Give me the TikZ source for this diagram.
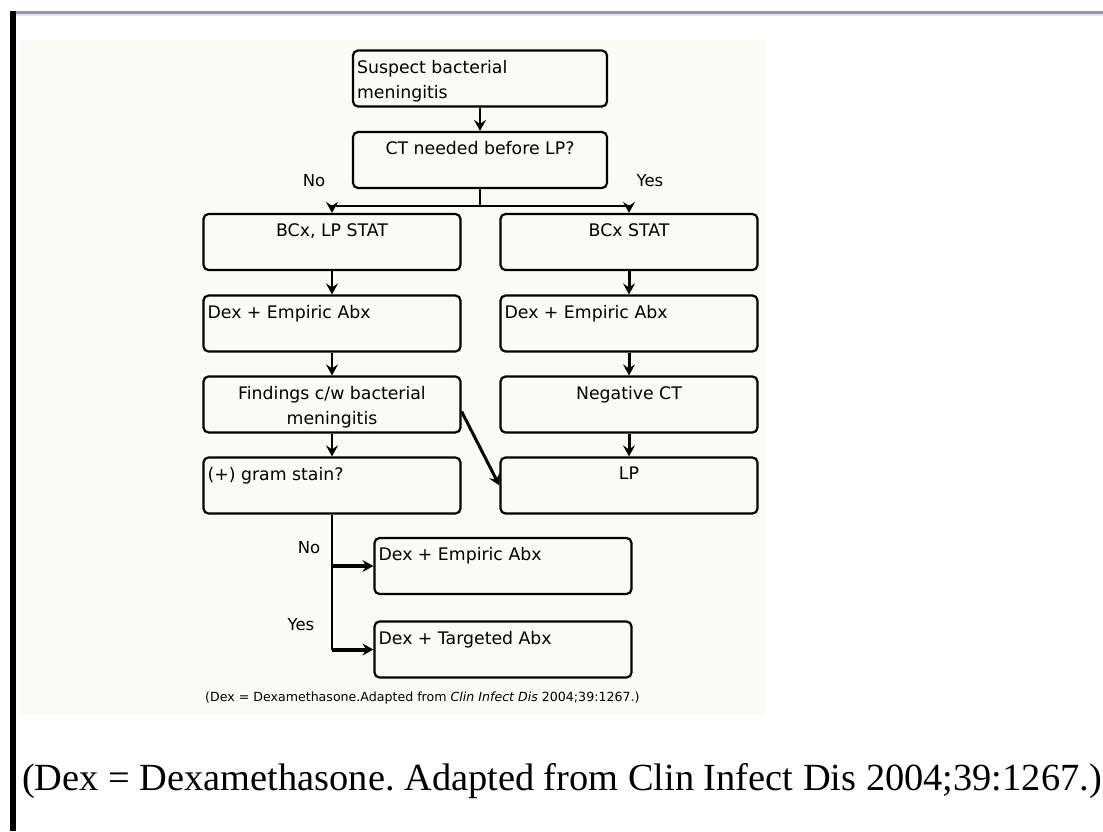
\documentclass[tikz,border=0pt]{standalone}
\usepackage{fontspec}
\setmainfont{Liberation Serif}
\newfontfamily\chartfont{DejaVu Sans}
\usetikzlibrary{arrows.meta}
\definecolor{scanbg}{RGB}{250,250,247}
\definecolor{rulegray}{RGB}{153,153,160}
\definecolor{rulelight}{RGB}{230,228,240}
\frenchspacing
\tikzset{
  flowbox/.style={draw, rounded corners=5pt, line width=2.2pt,
    minimum width=257pt, minimum height=56pt, inner sep=0pt},
  toptxt/.style={anchor=north, inner sep=0pt, yshift=-10.5pt,
    font=\chartfont\fontsize{17.3}{25}\selectfont, align=center},
  lefttxt/.style={anchor=north west, inner sep=0pt, xshift=5pt, yshift=-10.5pt,
    font=\chartfont\fontsize{17.3}{25}\selectfont, align=left},
  branchlbl/.style={inner sep=0pt, font=\chartfont\fontsize{16.5}{20}\selectfont},
  flow/.style={line width=2.2pt, -{Stealth[length=11pt,width=12pt,inset=4pt]}},
}
\begin{document}
\begin{tikzpicture}[x=1pt,y=-1pt]
  \useasboundingbox (0,0) rectangle (1103,831);
  \fill[white] (0,0) rectangle (1103,831);
  % page rules
  \fill[rulegray] (10,11) rectangle (1103,13.5);
  \fill[rulelight] (10,13.5) rectangle (1103,15.5);
  \fill[black] (10,11) rectangle (16,831);
  \fill[scanbg] (20,40) rectangle (765,715);
  % boxes
  \node[flowbox, minimum width=254pt,
    label={[lefttxt]north west:Suspect bacterial\\meningitis}] (suspect) at (480,78.5) {};
  \node[flowbox, minimum width=254pt,
    label={[toptxt]north:CT needed before LP?}] (ct) at (480,160) {};
  \node[flowbox, label={[toptxt]north:{BCx, LP STAT}}] (bcx) at (332,242) {};
  \node[flowbox, label={[toptxt]north:BCx STAT}] (bcxs) at (629,242) {};
  \node[flowbox, label={[lefttxt]north west:Dex + Empiric Abx}] (dexl) at (332,323.5) {};
  \node[flowbox, label={[lefttxt]north west:Dex + Empiric Abx}] (dexr) at (629,323.5) {};
  \node[flowbox, label={[toptxt]north:Findings c/w bacterial\\meningitis}] (find) at (332,404.5) {};
  \node[flowbox, label={[toptxt]north:Negative CT}] (neg) at (629,404.5) {};
  \node[flowbox, label={[lefttxt]north west:(+) gram stain?}] (gram) at (332,485.5) {};
  \node[flowbox, label={[toptxt]north:LP}] (lp) at (629,485.5) {};
  \node[flowbox, label={[lefttxt]north west:Dex + Empiric Abx}] (emp) at (503,566) {};
  \node[flowbox, label={[lefttxt]north west:Dex + Targeted Abx}] (targ) at (503,649.5) {};
  % branch labels
  \node[branchlbl] (nolbl) at (314,181) {No};
  \node[branchlbl] (yeslbl) at (650,181) {Yes};
  \node[branchlbl] (nolbl2) at (309,548) {No};
  \node[branchlbl] (yeslbl2) at (301,625) {Yes};
  % connectors
  \draw[flow] (suspect) -- (ct);
  \draw[line width=2.2pt] (ct.south) -- ++(0,17) coordinate (split);
  \draw[flow] (split) -| (bcx.north);
  \draw[flow] (split) -| (bcxs.north);
  \draw[flow] (bcx) -- (dexl);
  \draw[flow] (dexl) -- (find);
  \draw[flow] (find) -- (gram);
  \draw[flow, line width=3pt] (bcxs) -- (dexr);
  \draw[flow, line width=3pt] (dexr) -- (neg);
  \draw[flow, line width=3pt] (neg) -- (lp);
  \draw[flow, line width=3pt] ([yshift=-7pt]find.east) -- (lp.west);
  \draw[line width=2.5pt] (gram.south) -- (gram.south |- targ.west);
  \draw[flow, line width=4pt] (gram.south |- emp.west) -- (emp.west);
  \draw[flow, line width=4pt] (gram.south |- targ.west) -- (targ.west);
  % captions
  \node[anchor=west, inner sep=0pt, font=\chartfont\fontsize{12.6}{14}\selectfont]
    (srccap) at (205,698) {(Dex = Dexamethasone.Adapted from \textit{Clin Infect Dis} 2004;39:1267.)};
  \node[anchor=base west, inner sep=0pt, font=\fontsize{38.4}{44}\selectfont]
    (note) at (22,790) {(Dex = Dexamethasone. Adapted from Clin Infect Dis 2004;39:1267.)};
\end{tikzpicture}
\end{document}
